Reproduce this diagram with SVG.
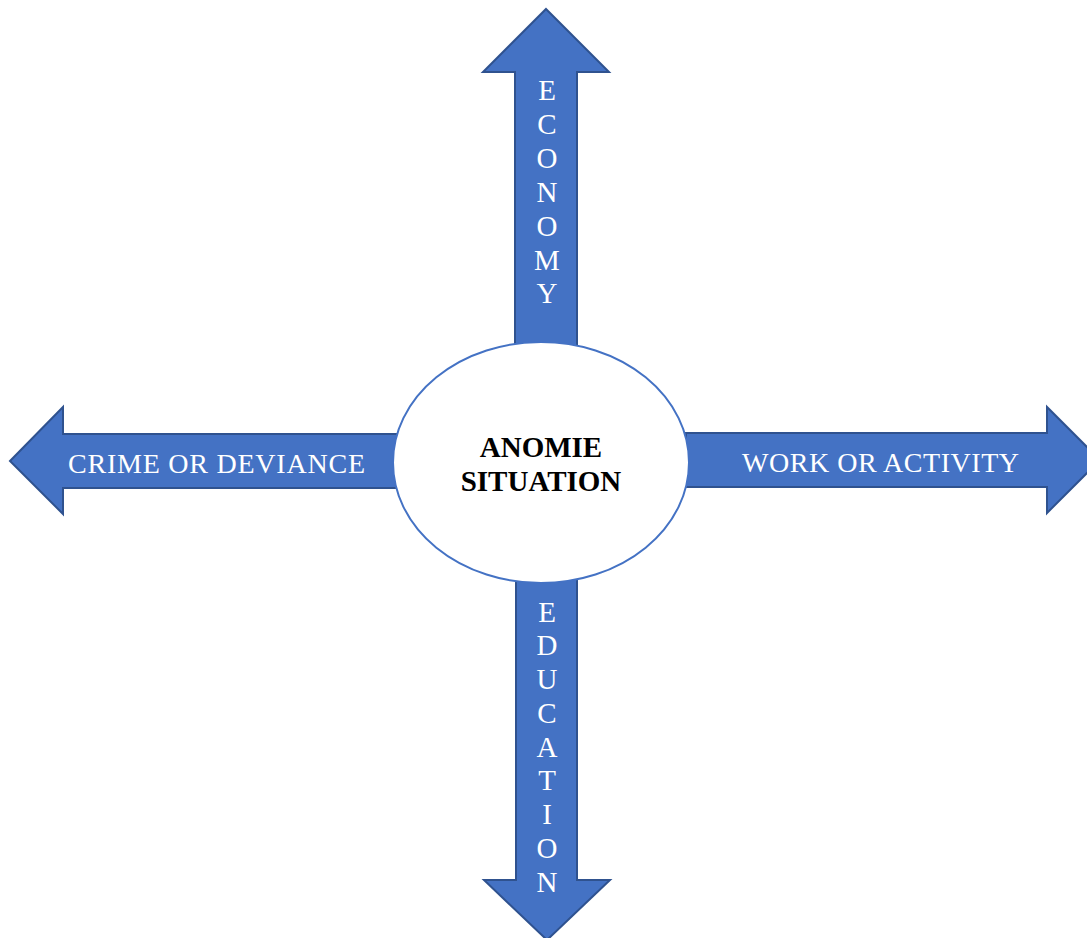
<svg xmlns="http://www.w3.org/2000/svg" width="1087" height="938" viewBox="0 0 1087 938">
<style>
.arrow{fill:#4472C4;stroke:#2F528F;stroke-width:2;stroke-linejoin:miter}
.lbl{font-family:"Liberation Serif","Times New Roman",serif;font-size:28px;fill:#FFFFFF}
.v{text-anchor:middle;font-size:29px}
.center{font-family:"Liberation Serif","Times New Roman",serif;font-size:29px;font-weight:bold;fill:#000000;text-anchor:middle}
</style>
<rect width="1087" height="938" fill="#FFFFFF"/>
<g id="connectors">
<g id="arrow-economy">
<polygon class="arrow" points="546,9 609,72 577,72 577,346 515,346 515,72 483,72"/>
<text class="lbl v" x="547" y="100">E</text>
<text class="lbl v" x="547" y="134">C</text>
<text class="lbl v" x="547" y="168">O</text>
<text class="lbl v" x="547" y="202">N</text>
<text class="lbl v" x="547" y="236">O</text>
<text class="lbl v" x="547" y="270">M</text>
<text class="lbl v" x="547" y="303">Y</text>
</g>
<g id="arrow-education">
<polygon class="arrow" points="516,578 577,578 577,880 610,880 547,940 484,880 516,880"/>
<text class="lbl v" x="547" y="622">E</text>
<text class="lbl v" x="547" y="655">D</text>
<text class="lbl v" x="547" y="689">U</text>
<text class="lbl v" x="547" y="723">C</text>
<text class="lbl v" x="547" y="757">A</text>
<text class="lbl v" x="547" y="790">T</text>
<text class="lbl v" x="547" y="824">I</text>
<text class="lbl v" x="547" y="858">O</text>
<text class="lbl v" x="547" y="892">N</text>
</g>
<g id="arrow-crime">
<polygon class="arrow" points="10,461 63,407 63,434 400,434 400,488 63,488 63,514"/>
<text class="lbl" x="68" y="473" textLength="297" lengthAdjust="spacing">CRIME OR DEVIANCE</text>
</g>
<g id="arrow-work">
<polygon class="arrow" points="686,433 1047,433 1047,407 1100,460 1047,513 1047,487 686,487"/>
<text class="lbl" x="742" y="472" textLength="277" lengthAdjust="spacing">WORK OR ACTIVITY</text>
</g>
</g>
<g id="node-anomie">
<ellipse cx="541" cy="462.5" rx="148" ry="120.5" fill="#FFFFFF" stroke="#4472C4" stroke-width="2"/>
<text class="center" x="541" y="457">ANOMIE</text>
<text class="center" x="541" y="491">SITUATION</text>
</g>
</svg>
